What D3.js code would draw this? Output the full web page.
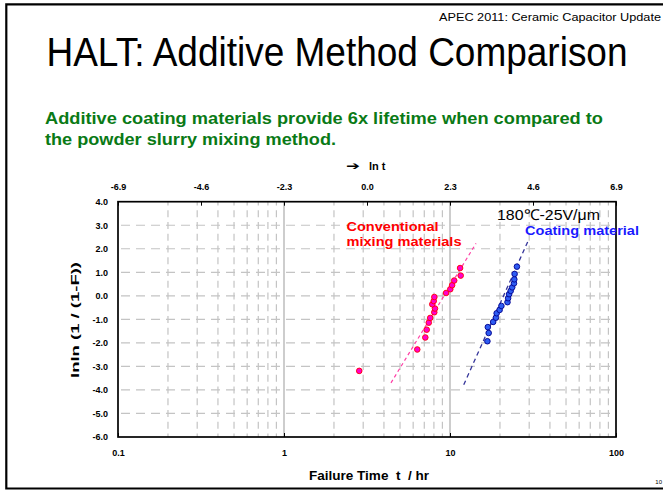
<!DOCTYPE html>
<html>
<head>
<meta charset="utf-8">
<script src="https://cdnjs.cloudflare.com/ajax/libs/d3/7.8.5/d3.min.js"></script>
<style>
  body { margin: 0; background: #fff; }
  svg { display: block; font-family: Arial, "Liberation Sans", sans-serif; }
  .tick text { font-weight: bold; font-size: 9px; fill: #000; }
</style>
</head>
<body>
<script>
// Data
var xTicks = [0.1, 1, 10, 100];
var yTicks = [-6, -5, -4, -3, -2, -1, 0, 1, 2, 3, 4];
var lnTicks = [-6.9, -4.6, -2.3, 0.0, 2.3, 4.6, 6.9];

// conventional mixing materials
var redT = [2.84, 6.35, 7.1, 7.24, 7.45, 7.6, 8.04, 8.12, 7.82, 7.98, 8.05, 9.47, 10.04, 10.3, 10.6, 11.6, 11.5];
var redY = [-3.19, -2.28, -1.77, -1.44, -1.14, -0.94, -0.70, -0.54, -0.36, -0.22, -0.05, 0.12, 0.28, 0.45, 0.65, 0.86, 1.18];
// coating material
var blueT = [16.8, 17.1, 16.9, 18.2, 18.9, 19.1, 19.9, 20.4, 22.2, 22.4, 22.7, 23.2, 23.7, 24.3, 24.4, 24.5, 25.3];
var blueY = [-1.93, -1.58, -1.33, -1.11, -0.93, -0.74, -0.60, -0.43, -0.27, -0.10, 0.07, 0.21, 0.36, 0.53, 0.70, 0.93, 1.24];
// fitted lines (end points)
var redFitT = [4.41, 14.35];
var redFitY = [-3.70, 2.23];
var blueFitT = [12.1, 29.4];
var blueFitY = [-3.78, 2.30];

var W = 663, H = 491;
var pL = 118, pR = 616, pT = 201.7, pB = 437;

var svg = d3.select("body").append("svg")
	.attr("width", W)
	.attr("height", H);

// fit a text to a measured width
function fit(sel, w) {
	sel.attr("textLength", w).attr("lengthAdjust", "spacingAndGlyphs");
	return sel;
}

// slide frame
svg.append("path")
	.attr("d", "M700,4.3 H6.3 V488.5 H700")
	.attr("fill", "none")
	.attr("stroke", "#000")
	.attr("stroke-width", 2.2);

svg.append("text")
	.attr("x", 439).attr("y", 20.5)
	.style("font-size", "11px")
	.text("APEC 2011: Ceramic Capacitor Update")
	.call(fit, 222);

svg.append("text")
	.attr("x", 46.5).attr("y", 65.5)
	.style("font-size", "41px")
	.text("HALT: Additive Method Comparison")
	.call(fit, 581);

svg.append("text")
	.attr("x", 45).attr("y", 123.5)
	.style("font-size", "17px").style("font-weight", "bold").style("fill", "#0a7a16")
	.text("Additive coating materials provide 6x lifetime when compared to")
	.call(fit, 558);

svg.append("text")
	.attr("x", 45).attr("y", 144.5)
	.style("font-size", "17px").style("font-weight", "bold").style("fill", "#0a7a16")
	.text("the powder slurry mixing method.")
	.call(fit, 291);

svg.append("text")
	.attr("x", 662).attr("y", 484)
	.attr("text-anchor", "end")
	.style("font-size", "6px")
	.text("10");

// scales
var x = d3.scaleLog().domain([0.1, 100]).range([pL, pR]);
var y = d3.scaleLinear().domain([-6, 4]).range([pB, pT]);
var xLn = d3.scaleLinear().domain([-6.9, 6.9]).range([pL, pR]);

var grid = svg.append("g");

// minor vertical grid
var minor = [];
[0.1, 1, 10].forEach(function (d) {
	for (var k = 2; k <= 9; k++) minor.push(d * k);
});
grid.selectAll(".vminor").data(minor).enter().append("line")
	.attr("x1", x).attr("x2", x)
	.attr("y1", pB).attr("y2", pT)
	.attr("stroke", "#c4c4c4").attr("stroke-width", 1.2)
	.attr("stroke-dasharray", "7,4.75").attr("stroke-dashoffset", 3.5);

// horizontal grid
grid.selectAll(".h").data(yTicks.slice(1, -1)).enter().append("line")
	.attr("x1", pL).attr("x2", pR)
	.attr("y1", y).attr("y2", y)
	.attr("stroke", "#c4c4c4").attr("stroke-width", 1.2)
	.attr("stroke-dasharray", "9,6").attr("stroke-dashoffset", -3);

// major vertical grid
grid.selectAll(".vmajor").data([1, 10]).enter().append("line")
	.attr("x1", x).attr("x2", x)
	.attr("y1", pB).attr("y2", pT)
	.attr("stroke", "#bdbdbd").attr("stroke-width", 1.5);

// axes
var fmt = function (d) { return d.toFixed(1); };

svg.append("g")
	.attr("transform", "translate(0," + pB + ")")
	.call(d3.axisBottom(x).tickValues(xTicks).tickFormat(function (d) { return String(d); }).tickSize(-4).tickPadding(13))
	.call(function (g) { g.select(".domain").remove(); });

svg.append("g")
	.attr("transform", "translate(0," + pT + ")")
	.call(d3.axisTop(xLn).tickValues(lnTicks).tickFormat(fmt).tickSize(-4).tickPadding(12))
	.call(function (g) { g.select(".domain").remove(); });

svg.append("g")
	.attr("transform", "translate(" + pL + ",0)")
	.call(d3.axisLeft(y).tickValues(yTicks).tickFormat(fmt).tickSize(0).tickPadding(10))
	.call(function (g) { g.select(".domain").remove(); });

// plot frame
svg.append("rect")
	.attr("x", pL).attr("y", pT)
	.attr("width", pR - pL).attr("height", pB - pT)
	.attr("fill", "none").attr("stroke", "#000").attr("stroke-width", 1.7);

// axis titles
svg.append("text")
	.attr("x", 309).attr("y", 480)
	.style("font-size", "12px").style("font-weight", "bold")
	.style("white-space", "pre")
	.text("Failure Time  t  / hr")
	.call(fit, 120);

svg.append("text")
	.attr("transform", "translate(79,320) rotate(-90)")
	.attr("text-anchor", "middle")
	.style("font-size", "11.5px").style("font-weight", "bold")
	.text("lnln (1 / (1-F))")
	.call(fit, 116);

svg.append("text")
	.attr("x", 346).attr("y", 169.5)
	.style("font-family", "'DejaVu Sans', sans-serif")
	.style("font-size", "12px")
	.text("\u2794")
	.call(fit, 14);

svg.append("text")
	.attr("x", 369).attr("y", 169.5)
	.style("font-size", "11px").style("font-weight", "bold")
	.text("ln t");

// fitted lines
var line = d3.line().x(function (d) { return x(d[0]); }).y(function (d) { return y(d[1]); });

svg.append("path")
	.datum(d3.zip(redFitT, redFitY))
	.attr("d", line)
	.attr("fill", "none").attr("stroke", "#ff3fa6").attr("stroke-width", 1.2)
	.attr("stroke-dasharray", "3.5,3");

svg.append("path")
	.datum(d3.zip(blueFitT, blueFitY))
	.attr("d", line)
	.attr("fill", "none").attr("stroke", "#35359a").attr("stroke-width", 1.3)
	.attr("stroke-dasharray", "4.5,3.5");

// points
svg.append("g").selectAll("circle")
	.data(d3.zip(redT, redY)).enter().append("circle")
	.attr("cx", function (d) { return x(d[0]); })
	.attr("cy", function (d) { return y(d[1]); })
	.attr("r", 2.8)
	.attr("fill", "#ff00cc").attr("stroke", "#ff0000").attr("stroke-width", 0.9);

svg.append("g").selectAll("circle")
	.data(d3.zip(blueT, blueY)).enter().append("circle")
	.attr("cx", function (d) { return x(d[0]); })
	.attr("cy", function (d) { return y(d[1]); })
	.attr("r", 2.8)
	.attr("fill", "#2e5cf2").attr("stroke", "#00008c").attr("stroke-width", 0.9);

// annotations
svg.append("text")
	.attr("x", 497).attr("y", 220)
	.style("font-size", "15px")
	.text("180\u2103-25V/\u03bcm")
	.call(fit, 103);

svg.append("text")
	.attr("x", 346.5).attr("y", 230.5)
	.style("font-size", "13px").style("font-weight", "bold").style("fill", "#ff0000")
	.text("Conventional")
	.call(fit, 92);

svg.append("text")
	.attr("x", 346.5).attr("y", 246)
	.style("font-size", "13px").style("font-weight", "bold").style("fill", "#ff0000")
	.text("mixing materials")
	.call(fit, 115);

svg.append("text")
	.attr("x", 525).attr("y", 235)
	.style("font-size", "13px").style("font-weight", "bold").style("fill", "#1a1aff")
	.text("Coating material")
	.call(fit, 114);
</script>
</body>
</html>
